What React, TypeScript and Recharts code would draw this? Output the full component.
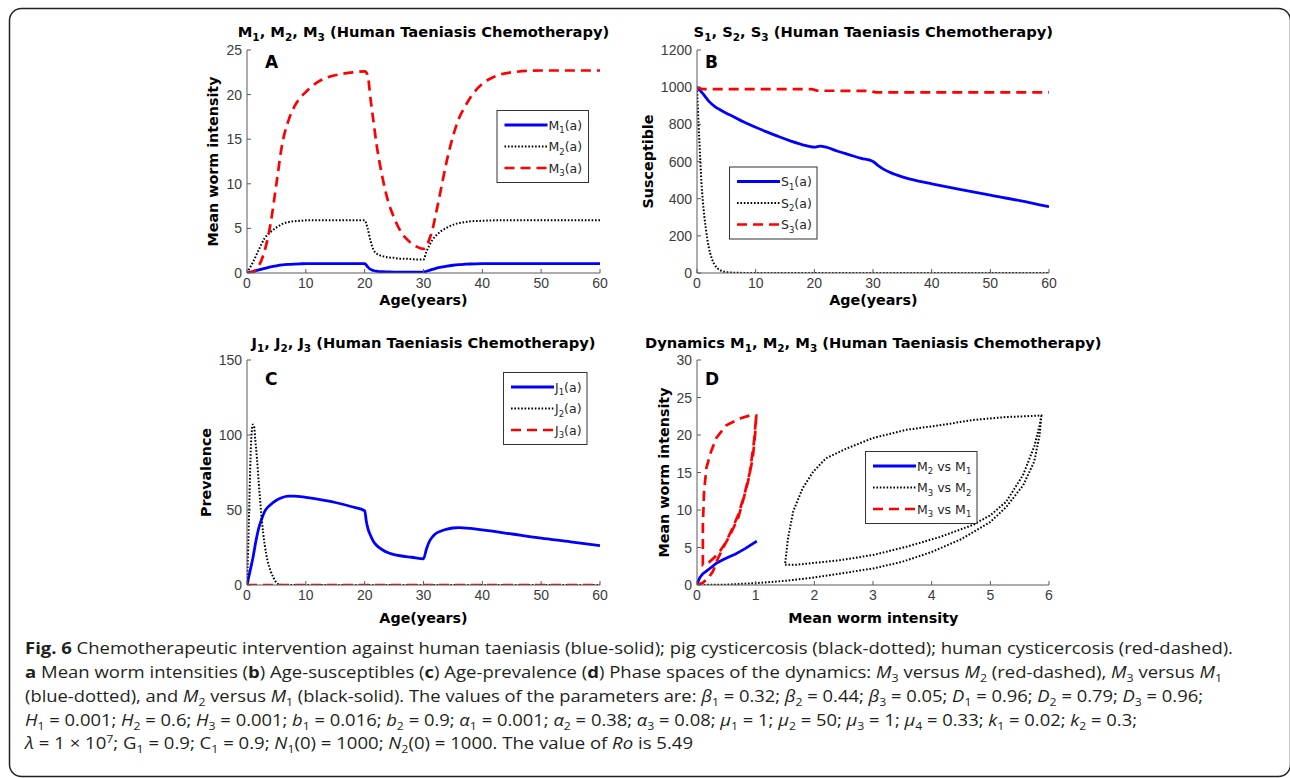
import React from 'react';
import { LineChart, Line, XAxis, YAxis } from 'recharts';

// ---- panel A: mean worm intensities ----
const ageA = [0, 1, 2, 3, 4, 5, 6, 7, 8, 9, 10, 12, 14, 16, 18, 20, 20.5, 21, 21.5, 22, 22.5, 23, 24, 25, 26, 27, 28, 29, 30, 30.5, 31, 31.5, 32, 33, 34, 35, 36, 37, 38, 40, 42, 45, 50, 55, 60];
const m1 = [0, 0.15, 0.35, 0.52, 0.68, 0.8, 0.9, 0.96, 1.0, 1.03, 1.05, 1.05, 1.05, 1.05, 1.05, 1.05, 0.7, 0.4, 0.28, 0.2, 0.16, 0.14, 0.12, 0.1, 0.1, 0.1, 0.1, 0.1, 0.1, 0.2, 0.3, 0.4, 0.5, 0.65, 0.78, 0.87, 0.94, 0.98, 1.01, 1.04, 1.05, 1.05, 1.05, 1.05, 1.05];
const m2 = [0, 1.2, 2.6, 3.9, 4.6, 5.1, 5.5, 5.7, 5.8, 5.85, 5.9, 5.9, 5.9, 5.9, 5.9, 5.9, 5.0, 3.6, 2.6, 2.2, 2.0, 1.9, 1.75, 1.7, 1.6, 1.6, 1.55, 1.5, 1.5, 2.4, 3.1, 3.7, 4.1, 4.7, 5.1, 5.4, 5.6, 5.7, 5.8, 5.85, 5.9, 5.9, 5.9, 5.9, 5.9];
const m3 = [0, 0.1, 0.8, 2.5, 5.5, 10, 14.5, 17, 18.6, 19.6, 20.3, 21.4, 22, 22.3, 22.5, 22.6, 22.2, 19.5, 17, 14.5, 12.5, 10.8, 8, 6.2, 4.8, 3.9, 3.3, 2.9, 2.7, 3.0, 3.8, 4.8, 6.3, 9.5, 12.7, 15.3, 17.3, 18.6, 19.7, 21.2, 22, 22.5, 22.7, 22.7, 22.7];

// ---- panel B: susceptibles ----
const s1Age = [0, 1, 2, 3, 4, 5, 6, 8, 10, 12, 14, 16, 18, 20, 21, 22, 24, 26, 28, 30, 31, 32, 33, 34, 36, 38, 40, 45, 50, 55, 60];
const s1 = [1000, 965, 925, 897, 877, 860, 845, 812, 784, 758, 733, 710, 690, 677, 683, 677, 655, 636, 617, 600, 575, 555, 540, 528, 508, 493, 480, 449, 419, 390, 357];
const s2Age = [0, 0.25, 0.5, 0.75, 1, 1.5, 2, 2.5, 3, 3.5, 4, 5, 6, 8, 10, 20, 30, 40, 50, 60];
const s2 = [1000, 810, 650, 490, 385, 240, 140, 80, 45, 25, 14, 5, 2, 0.5, 0, 0, 0, 0, 0, 0];
const s3Age = [0, 1, 2, 19.5, 20.5, 29.5, 30.5, 60];
const s3 = [1000, 990, 990, 990, 981, 980, 972, 972];

// ---- panel C: prevalence ----
const j1Age = [0, 0.5, 1, 1.5, 2, 2.5, 3, 4, 5, 6, 7, 8, 10, 12, 15, 18, 20, 20.3, 20.6, 21, 21.5, 22, 23, 24, 25, 26, 28, 30, 30.5, 31, 31.5, 32, 33, 34, 35, 36, 38, 40, 45, 50, 55, 60];
const j1 = [0, 9, 18, 29, 38, 44, 49, 53.5, 56.5, 58.3, 59.2, 59.3, 58.4, 57.2, 55, 52, 49.5, 42, 37, 33, 29, 26.5, 23.5, 21.5, 20.3, 19.5, 18.5, 17.5, 24, 29, 32, 34, 36, 37.3, 38, 38.2, 37.7, 36.8, 34, 31.2, 28.8, 26.2];
const j2Age = [0, 0.2, 0.4, 0.6, 0.8, 1, 1.2, 1.4, 1.7, 2, 2.5, 3, 3.5, 4, 4.5, 5, 5.5, 6, 10, 20, 30, 40, 50, 60];
const j2 = [0, 25, 55, 85, 102, 107, 106, 97, 84, 68, 44, 27, 16, 9.5, 5, 1.5, 0.3, 0, 0, 0, 0, 0, 0, 0];
const j3Age = [0, 60];
const j3 = [0, 0];

// ---- panel D: phase spaces ----
const dBlueX = [0, 0.02, 0.05, 0.1, 0.16, 0.25, 0.33, 0.45, 0.56, 0.65, 0.73, 0.82, 0.9, 0.96, 1.02];
const dBlueY = [0, 0.5, 1.0, 1.5, 1.85, 2.4, 2.9, 3.4, 3.8, 4.1, 4.45, 4.85, 5.25, 5.55, 5.85];
const dBlackX = [0, 0.5, 1.0, 1.5, 2.0, 2.5, 3.0, 3.5, 4.0, 4.5, 5.0, 5.27, 5.56, 5.75, 5.84, 5.87, 5.6, 5.27, 4.7, 4.14, 3.57, 3.0, 2.55, 2.2, 1.98, 1.8, 1.64, 1.55, 1.52, 1.5, 1.69, 2.43, 3.0, 3.57, 4.14, 4.7, 5.0, 5.27, 5.56, 5.75, 5.84, 5.87];
const dBlackY = [0, 0.05, 0.25, 0.55, 1.0, 1.6, 2.2, 3.1, 4.4, 6.1, 8.4, 10.4, 13.3, 16.5, 20.0, 22.6, 22.5, 22.4, 22.0, 21.3, 20.7, 19.6, 18.2, 16.9, 15.1, 12.9, 9.8, 6.2, 4.0, 2.7, 2.7, 3.3, 4.0, 5.1, 6.4, 8.0, 9.3, 11.1, 14.7, 18.5, 21.3, 22.6];
const dRedX = [0, 0.1, 0.19, 0.27, 0.36, 0.47, 0.59, 0.7, 0.78, 0.87, 0.95, 0.99, 1.01, 0.9, 0.73, 0.5, 0.33, 0.24, 0.16, 0.12, 0.1, 0.1, 0.2, 0.3, 0.4, 0.5, 0.6, 0.7, 0.8, 0.9, 0.97, 1.01];
const dRedY = [0, 0.3, 0.9, 1.8, 3.6, 5.3, 7.1, 8.9, 11.1, 13.8, 16.9, 20, 22.6, 22.6, 22.2, 21.3, 19.6, 17.8, 15.6, 12.4, 8, 2.7, 3.0, 3.7, 4.6, 5.8, 7.5, 9.3, 11.8, 15, 19, 22.6];

// ---- ticks ----
const ageTicks = [0, 10, 20, 30, 40, 50, 60];
const ticksA = [0, 5, 10, 15, 20, 25];
const ticksB = [0, 200, 400, 600, 800, 1000, 1200];
const ticksC = [0, 50, 100, 150];
const ticksDx = [0, 1, 2, 3, 4, 5, 6];
const ticksDy = [0, 5, 10, 15, 20, 25, 30];

const zip = (xs: number[], ys: number[]) => xs.map((x, i) => ({ x, y: ys[i] }));

const FONT = '"DejaVu Sans", sans-serif';
const TICK_FONT = '"Liberation Sans", Arial, sans-serif';
const AX = '#5a5a5a';
const TICK = '#3c3c3c';

type Kind = 'solid' | 'dotted' | 'dashed';
const lineStyle: Record<Kind, any> = {
  solid: { stroke: '#0000ff', strokeWidth: 2.8 },
  dotted: { stroke: '#000000', strokeWidth: 2, strokeDasharray: '1.6 1.8' },
  dashed: { stroke: '#ff0000', strokeWidth: 2.7, strokeDasharray: '10 6' },
};

// tick labels drawn by hand so the font sticks
const xTick = (props: any) => (
  <text x={props.x} y={props.y} dy="0.72em" textAnchor="middle" fontSize={14} fontFamily={TICK_FONT} fill={TICK}>
    {props.payload.value}
  </text>
);
const yTick = (props: any) => (
  <text x={props.x} y={props.y} dy="0.36em" textAnchor="end" fontSize={14} fontFamily={TICK_FONT} fill={TICK}>
    {props.payload.value}
  </text>
);

type Series = { data: { x: number; y: number }[]; kind: Kind; curve: 'monotone' | 'linear' };

interface PanelProps {
  left: number;
  top: number;
  width: number;
  height: number;
  marginLeft: number;
  marginRight: number;
  xDomain: [number, number];
  xTicks: number[];
  yDomain: [number, number];
  yTicks: number[];
  series: Series[];
}

function Panel(p: PanelProps) {
  return (
    <div style={{ position: 'absolute', left: p.left, top: p.top }}>
      <LineChart width={p.width} height={p.height} margin={{ top: 10, right: p.marginRight, bottom: 7, left: p.marginLeft }}>
        <XAxis type="number" dataKey="x" domain={p.xDomain} ticks={p.xTicks} interval={0} tickSize={-4} tickMargin={9}
          height={20} stroke={AX} tick={xTick} allowDataOverflow />
        <XAxis xAxisId="t" orientation="top" type="number" dataKey="x" domain={p.xDomain} ticks={p.xTicks} interval={0}
          tickSize={-4} height={0} stroke={AX} tick={false} allowDataOverflow />
        <YAxis type="number" domain={p.yDomain} ticks={p.yTicks} interval={0} tickSize={-4} tickMargin={9}
          width={40} stroke={AX} tick={yTick} allowDataOverflow />
        <YAxis yAxisId="r" orientation="right" type="number" domain={p.yDomain} ticks={p.yTicks} interval={0}
          tickSize={-4} width={0} stroke={AX} tick={false} allowDataOverflow />
        {p.series.map((s, i) => (
          <Line key={i} data={s.data} dataKey="y" type={s.curve} dot={false} activeDot={false}
            isAnimationActive={false} {...lineStyle[s.kind]} />
        ))}
      </LineChart>
    </div>
  );
}

// ---- rich SVG text helper (sub/superscripts, bold, italic) ----
type Seg = string | { s: string; sub?: boolean; sup?: boolean; i?: boolean; b?: boolean };
const I = (s: string): Seg => ({ s, i: true });
const Bd = (s: string): Seg => ({ s, b: true });
const S = (s: string): Seg => ({ s, sub: true });
const P = (s: string): Seg => ({ s, sup: true });

function rich(segs: Seg[], small: number, subDy: number, supDy: number) {
  let cur = 0;
  return segs.map((g, k) => {
    const o = typeof g === 'string' ? { s: g } : g;
    const target = o.sub ? subDy : o.sup ? -supDy : 0;
    const dy = target - cur;
    cur = target;
    return (
      <tspan key={k} dy={dy} fontSize={o.sub || o.sup ? small : undefined}
        fontStyle={o.i ? 'italic' : undefined} fontWeight={o.b ? 700 : undefined}>
        {o.s}
      </tspan>
    );
  });
}

function Title({ x, y, segs }: { x: number; y: number; segs: Seg[] }) {
  return (
    <text x={x} y={y} textAnchor="middle" fontFamily={FONT} fontWeight={700} fontSize={14.7} fill="#000">
      {rich(segs, 10.5, 4, 0)}
    </text>
  );
}

function LegendBox({ x, y, w, labels }: { x: number; y: number; w: number; labels: Seg[][] }) {
  const kinds: Kind[] = ['solid', 'dotted', 'dashed'];
  return (
    <g>
      <rect x={x + 0.5} y={y + 0.5} width={w} height={72} fill="#fff" stroke="#333" strokeWidth={1} />
      {labels.map((lab, i) => {
        const cy = y + 15 + i * 21.5;
        return (
          <g key={i}>
            <line x1={x + 8} x2={x + 51} y1={cy} y2={cy} {...lineStyle[kinds[i]]} />
            <text x={x + 52} y={cy + 4.5} fontFamily={FONT} fontSize={12.5} fill="#262626">
              {rich(lab, 8.5, 3.5, 0)}
            </text>
          </g>
        );
      })}
    </g>
  );
}

const titleTail = ' (Human Taeniasis Chemotherapy)';

const captionLines: { y: number; end: number; segs: Seg[] }[] = [
  {
    y: 654, end: 1233,
    segs: [Bd('Fig. 6'), ' Chemotherapeutic intervention against human taeniasis (blue-solid); pig cysticercosis (black-dotted); human cysticercosis (red-dashed).'],
  },
  {
    y: 678, end: 1222,
    segs: [Bd('a'), ' Mean worm intensities (', Bd('b'), ') Age-susceptibles (', Bd('c'), ') Age-prevalence (', Bd('d'),
      ') Phase spaces of the dynamics: ', I('M'), S('3'), ' versus ', I('M'), S('2'), ' (red-dashed), ', I('M'), S('3'),
      ' versus ', I('M'), S('1')],
  },
  {
    y: 702, end: 1203,
    segs: ['(blue-dotted), and ', I('M'), S('2'), ' versus ', I('M'), S('1'), ' (black-solid). The values of the parameters are: ',
      I('β'), S('1'), ' = 0.32; ', I('β'), S('2'), ' = 0.44; ', I('β'), S('3'), ' = 0.05; ', I('D'), S('1'), ' = 0.96; ',
      I('D'), S('2'), ' = 0.79; ', I('D'), S('3'), ' = 0.96;'],
  },
  {
    y: 725.5, end: 1137,
    segs: [I('H'), S('1'), ' = 0.001; ', I('H'), S('2'), ' = 0.6; ', I('H'), S('3'), ' = 0.001; ', I('b'), S('1'), ' = 0.016; ',
      I('b'), S('2'), ' = 0.9; ', I('α'), S('1'), ' = 0.001; ', I('α'), S('2'), ' = 0.38; ', I('α'), S('3'), ' = 0.08; ',
      I('μ'), S('1'), ' = 1; ', I('μ'), S('2'), ' = 50; ', I('μ'), S('3'), ' = 1; ', I('μ'), S('4'), ' = 0.33; ',
      I('k'), S('1'), ' = 0.02; ', I('k'), S('2'), ' = 0.3;'],
  },
  {
    y: 749, end: 693,
    segs: [I('λ'), ' = 1 × 10', P('7'), '; G', S('1'), ' = 0.9; C', S('1'), ' = 0.9; ', I('N'), S('1'), '(0) = 1000; ',
      I('N'), S('2'), '(0) = 1000. The value of ', I('Ro'), ' is 5.49'],
  },
];

export default function App() {
  const axisLabel = { fontFamily: FONT, fontWeight: 700, fontSize: 14.3, fill: '#000' } as const;
  return (
    <div style={{ position: 'absolute', left: 0, top: 0, width: 1290, height: 778, overflow: 'hidden', background: '#fff' }}>
      <Panel left={200} top={40} width={410} height={260} marginLeft={7} marginRight={10}
        xDomain={[0, 60]} xTicks={ageTicks} yDomain={[0, 25]} yTicks={ticksA}
        series={[
          { data: zip(ageA, m1), kind: 'solid', curve: 'monotone' },
          { data: zip(ageA, m2), kind: 'dotted', curve: 'monotone' },
          { data: zip(ageA, m3), kind: 'dashed', curve: 'monotone' },
        ]} />
      <Panel left={640} top={40} width={420} height={260} marginLeft={17} marginRight={11}
        xDomain={[0, 60]} xTicks={ageTicks} yDomain={[0, 1200]} yTicks={ticksB}
        series={[
          { data: zip(s1Age, s1), kind: 'solid', curve: 'monotone' },
          { data: zip(s2Age, s2), kind: 'dotted', curve: 'monotone' },
          { data: zip(s3Age, s3), kind: 'dashed', curve: 'monotone' },
        ]} />
      <Panel left={200} top={350} width={410} height={262} marginLeft={7} marginRight={10}
        xDomain={[0, 60]} xTicks={ageTicks} yDomain={[0, 150]} yTicks={ticksC}
        series={[
          { data: zip(j1Age, j1), kind: 'solid', curve: 'monotone' },
          { data: zip(j2Age, j2), kind: 'dotted', curve: 'monotone' },
          { data: zip(j3Age, j3), kind: 'dashed', curve: 'monotone' },
        ]} />
      <Panel left={640} top={350} width={420} height={262} marginLeft={17} marginRight={11}
        xDomain={[0, 6]} xTicks={ticksDx} yDomain={[0, 30]} yTicks={ticksDy}
        series={[
          { data: zip(dBlueX, dBlueY), kind: 'solid', curve: 'linear' },
          { data: zip(dBlackX, dBlackY), kind: 'dotted', curve: 'linear' },
          { data: zip(dRedX, dRedY), kind: 'dashed', curve: 'linear' },
        ]} />

      <svg width={1290} height={778} style={{ position: 'absolute', left: 0, top: 0, pointerEvents: 'none' }}>
        <rect x={9.5} y={8.5} width={1281} height={768} rx={12} ry={12} fill="none" stroke="#222" strokeWidth={1.5} />

        <Title x={423.5} y={36.7} segs={['M', S('1'), ', M', S('2'), ', M', S('3'), titleTail]} />
        <Title x={873.3} y={36.7} segs={['S', S('1'), ', S', S('2'), ', S', S('3'), titleTail]} />
        <Title x={423.5} y={347.7} segs={['J', S('1'), ', J', S('2'), ', J', S('3'), titleTail]} />
        <Title x={873.3} y={347.7} segs={['Dynamics M', S('1'), ', M', S('2'), ', M', S('3'), titleTail]} />

        <text x={423.5} y={305} textAnchor="middle" {...axisLabel}>Age(years)</text>
        <text x={873.3} y={305} textAnchor="middle" {...axisLabel}>Age(years)</text>
        <text x={423.5} y={622.5} textAnchor="middle" {...axisLabel}>Age(years)</text>
        <text x={873.3} y={622.5} textAnchor="middle" {...axisLabel}>Mean worm intensity</text>

        <text x={217.5} y={161.5} textAnchor="middle" transform="rotate(-90 217.5 161.5)" {...axisLabel}>Mean worm intensity</text>
        <text x={652.5} y={161.5} textAnchor="middle" transform="rotate(-90 652.5 161.5)" {...axisLabel}>Susceptible</text>
        <text x={210.5} y={472.5} textAnchor="middle" transform="rotate(-90 210.5 472.5)" {...axisLabel}>Prevalence</text>
        <text x={668.5} y={472.5} textAnchor="middle" transform="rotate(-90 668.5 472.5)" {...axisLabel}>Mean worm intensity</text>

        <text x={265} y={68.3} fontFamily={FONT} fontWeight={700} fontSize={17}>A</text>
        <text x={705} y={68.3} fontFamily={FONT} fontWeight={700} fontSize={17}>B</text>
        <text x={265} y={385} fontFamily={FONT} fontWeight={700} fontSize={17}>C</text>
        <text x={705} y={385} fontFamily={FONT} fontWeight={700} fontSize={17}>D</text>

        <LegendBox x={496.5} y={110} w={91.5} labels={[['M', S('1'), '(a)'], ['M', S('2'), '(a)'], ['M', S('3'), '(a)']]} />
        <LegendBox x={729} y={166.5} w={87.5} labels={[['S', S('1'), '(a)'], ['S', S('2'), '(a)'], ['S', S('3'), '(a)']]} />
        <LegendBox x={503} y={372} w={83.5} labels={[['J', S('1'), '(a)'], ['J', S('2'), '(a)'], ['J', S('3'), '(a)']]} />
        <LegendBox x={865} y={451} w={111.5} labels={[['M', S('2'), ' vs M', S('1')], ['M', S('3'), ' vs M', S('2')], ['M', S('3'), ' vs M', S('1')]]} />

        {captionLines.map((ln, k) => (
          <text key={k} x={25} y={ln.y} textLength={ln.end - 25} lengthAdjust="spacingAndGlyphs"
            fontFamily='"Open Sans", sans-serif' fontSize={16.5} fill="#231f20">
            {rich(ln.segs, 11, 4, 6)}
          </text>
        ))}
      </svg>
    </div>
  );
}
